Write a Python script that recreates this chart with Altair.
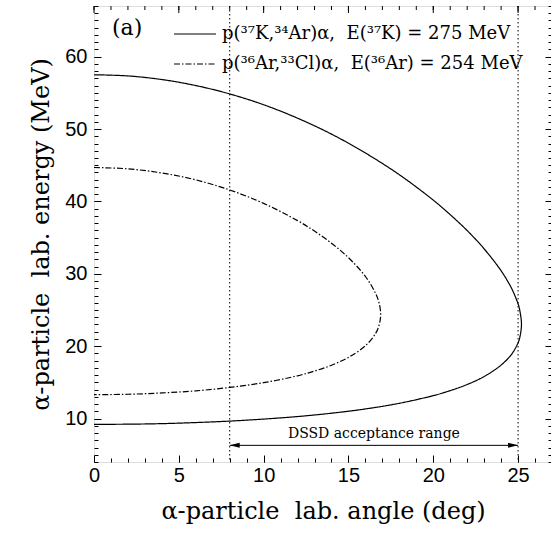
import altair as alt
import pandas as pd

# ---------------- data ----------------
solid_angle = [0, 2, 4, 6, 8, 10, 12, 14, 16, 18, 20, 21, 22, 23, 24, 24.5, 24.7, 25.0, 25.1, 25.2,
               25.1, 25.0, 24.7, 24.5, 24, 23, 22, 21, 20, 18, 16, 14, 12, 10, 8, 6, 4, 2, 0]
solid_energy = [57.5, 57.34, 56.84, 56.01, 54.85, 53.36, 51.5, 49.3, 46.69, 43.69, 40.18, 38.17,
                35.97, 33.45, 30.42, 28.51, 27.59, 25.85, 24.96, 23.0,
                21.19, 20.46, 19.16, 18.55, 17.39, 15.81, 14.71, 13.86, 13.17, 12.11, 11.33,
                10.74, 10.28, 9.93, 9.65, 9.45, 9.3, 9.225, 9.2]
dashdot_angle = [0, 2, 4, 6, 8, 10, 12, 13, 14, 15, 16, 16.6, 16.8, 16.9,
                 16.8, 16.6, 16, 15, 14, 13, 12, 10, 8, 6, 4, 2, 0]
dashdot_energy = [44.69, 44.5, 43.93, 42.98, 41.58, 39.73, 37.35, 35.9, 34.23, 32.23, 29.63, 27.3,
                  26.03, 24.38,
                  22.84, 21.76, 20.06, 18.45, 17.37, 16.56, 15.91, 14.96, 14.3, 13.83, 13.54,
                  13.36, 13.3]
series_labels = ["p(\u00b3\u2077K,\u00b3\u2074Ar)\u03b1,\u00a0 E(\u00b3\u2077K) = 275 MeV",
                 "p(\u00b3\u2076Ar,\u00b3\u00b3Cl)\u03b1,\u00a0 E(\u00b3\u2076Ar) = 254 MeV"]
dssd_range = [8, 25]
arrow_energy = [6.3]
dssd_label = ["DSSD acceptance range"]
panel_label = "(a)"
x_major = [0, 5, 10, 15, 20, 25]
x_minor = list(range(0, 28))
y_major = [10, 20, 30, 40, 50, 60]
y_minor = list(range(4, 68))
X_DOMAIN = [0, 27]
Y_DOMAIN = [4, 67]

W, H = 458, 456

# ---------------- tables ----------------
rows = []
for i, (a, e) in enumerate(zip(solid_angle, solid_energy)):
    rows.append({"angle": a, "energy": e, "series": series_labels[0], "idx": i})
for i, (a, e) in enumerate(zip(dashdot_angle, dashdot_energy)):
    rows.append({"angle": a, "energy": e, "series": series_labels[1], "idx": i})
curves_df = pd.DataFrame(rows)

arrow_df = pd.DataFrame({"x": [dssd_range[0]], "x2": [dssd_range[1]], "y": arrow_energy})
heads_df = pd.DataFrame({"x": dssd_range, "y": arrow_energy * 2, "end": ["l", "r"]})
text_df = pd.DataFrame({"x": [sum(dssd_range) / 2], "y": arrow_energy, "label": dssd_label})
edges_df = pd.DataFrame({"x": dssd_range})

xs = alt.Scale(domain=X_DOMAIN, nice=False, zero=False)
ys = alt.Scale(domain=Y_DOMAIN, nice=False, zero=False)

SERIF = "DejaVu Serif"
SANS = "Liberation Sans"


def tick_axis(orient, values, size):
    return alt.Axis(orient=orient, values=values, ticks=True, tickSize=size, offset=-size,
                    domain=False, grid=False, labels=False, title=None, tickColor="black",
                    tickWidth=1, tickOpacity=1, zindex=1)


# main curves with labelled axes
curves = alt.Chart(curves_df).mark_line(color="black", strokeWidth=1.2,
                                        interpolate="catmull-rom").encode(
    x=alt.X("angle:Q", scale=xs,
            axis=alt.Axis(orient="bottom", values=x_major, ticks=True, tickSize=7, offset=-7,
                          domain=False, grid=False, tickColor="black", tickWidth=1,
                          tickOpacity=1, zindex=1,
                          labelFont=SANS, labelFontSize=20, labelColor="black", labelPadding=3,
                          labelFlush=False,
                          title="\u03b1-particle\u00a0 lab. angle (deg)", titleFont=SERIF,
                          titleFontSize=24, titleFontWeight="normal", titleColor="black",
                          titlePadding=14)),
    y=alt.Y("energy:Q", scale=ys,
            axis=alt.Axis(orient="left", values=y_major, ticks=True, tickSize=7, offset=-7,
                          domain=False, grid=False, tickColor="black", tickWidth=1,
                          tickOpacity=1, zindex=1,
                          labelFont=SANS, labelFontSize=20, labelColor="black", labelPadding=7,
                          labelFlush=False,
                          title="\u03b1-particle\u00a0 lab. energy (MeV)", titleFont=SERIF,
                          titleFontSize=24, titleFontWeight="normal", titleColor="black",
                          titlePadding=11)),
    strokeDash=alt.StrokeDash("series:N",
                              scale=alt.Scale(domain=series_labels, range=[[1, 0], [6, 2, 1.5, 2]]),
                              legend=alt.Legend(orient="none", legendX=79, legendY=18, title=None,
                                                symbolType="stroke", symbolSize=1764,
                                                symbolStrokeWidth=1.2, symbolStrokeColor="black",
                                                labelFont=SERIF, labelFontSize=18,
                                                labelColor="black", labelLimit=500,
                                                clipHeight=20, rowPadding=10, padding=0,
                                                labelOffset=5)),
    order="idx:Q",
)

# acceptance-range arrow; carries the minor ticks of the bottom and left edges
arrow = alt.Chart(arrow_df).mark_rule(color="black", strokeWidth=1).encode(
    x=alt.X("x:Q", scale=xs, axis=tick_axis("bottom", x_minor, 4)),
    x2="x2:Q",
    y=alt.Y("y:Q", scale=ys, axis=tick_axis("left", y_minor, 4)),
)

# arrow heads; carry the major ticks of the right edge
path_l = "M0,0L2,-0.5L2,0.5Z"
path_r = "M0,0L-2,-0.5L-2,0.5Z"
heads = alt.Chart(heads_df).mark_point(filled=True, color="black", opacity=1, size=100,
                                       strokeWidth=0).encode(
    x=alt.X("x:Q", scale=xs, axis=None),
    y=alt.Y("y:Q", scale=ys, axis=tick_axis("right", y_major, 7)),
    shape=alt.Shape("end:N", scale=alt.Scale(domain=["l", "r"], range=[path_l, path_r]),
                    legend=None),
)

# DSSD label; carries the minor ticks of the right edge
text = alt.Chart(text_df).mark_text(font=SERIF, fontSize=14, dy=-11, color="black").encode(
    x=alt.X("x:Q", scale=xs, axis=None),
    y=alt.Y("y:Q", scale=ys, axis=tick_axis("right", y_minor, 4)),
    text="label:N",
)

# inward ticks along the top edge
top_major = alt.Chart(pd.DataFrame({"v": x_major})).mark_tick(
    color="black", thickness=1, size=7, orient="vertical", opacity=1).encode(
    x=alt.X("v:Q", scale=xs, axis=None), y=alt.value(3.5))
top_minor = alt.Chart(pd.DataFrame({"v": x_minor})).mark_tick(
    color="black", thickness=1, size=4, orient="vertical", opacity=1).encode(
    x=alt.X("v:Q", scale=xs, axis=None), y=alt.value(2))

edges = alt.Chart(edges_df).mark_rule(color="black", strokeWidth=1,
                                      strokeDash=[1.5, 2.5]).encode(
    x=alt.X("x:Q", scale=xs, axis=None),
)

panel = alt.Chart(pd.DataFrame({"t": [panel_label]})).mark_text(
    font=SERIF, fontSize=22, align="left", baseline="middle", color="black").encode(
    x=alt.value(18), y=alt.value(22), text="t:N")

chart = alt.layer(edges, top_major, top_minor, arrow, heads, text, curves, panel).resolve_scale(
    x="independent", y="independent"
).properties(
    width=W, height=H, autosize="none",
    padding={"left": 94, "top": 6, "right": -1, "bottom": 79},
).configure_view(stroke="black", strokeWidth=1.5).configure(background="white")

chart.save("out.html", embed_options={"renderer": "svg", "actions": False})
